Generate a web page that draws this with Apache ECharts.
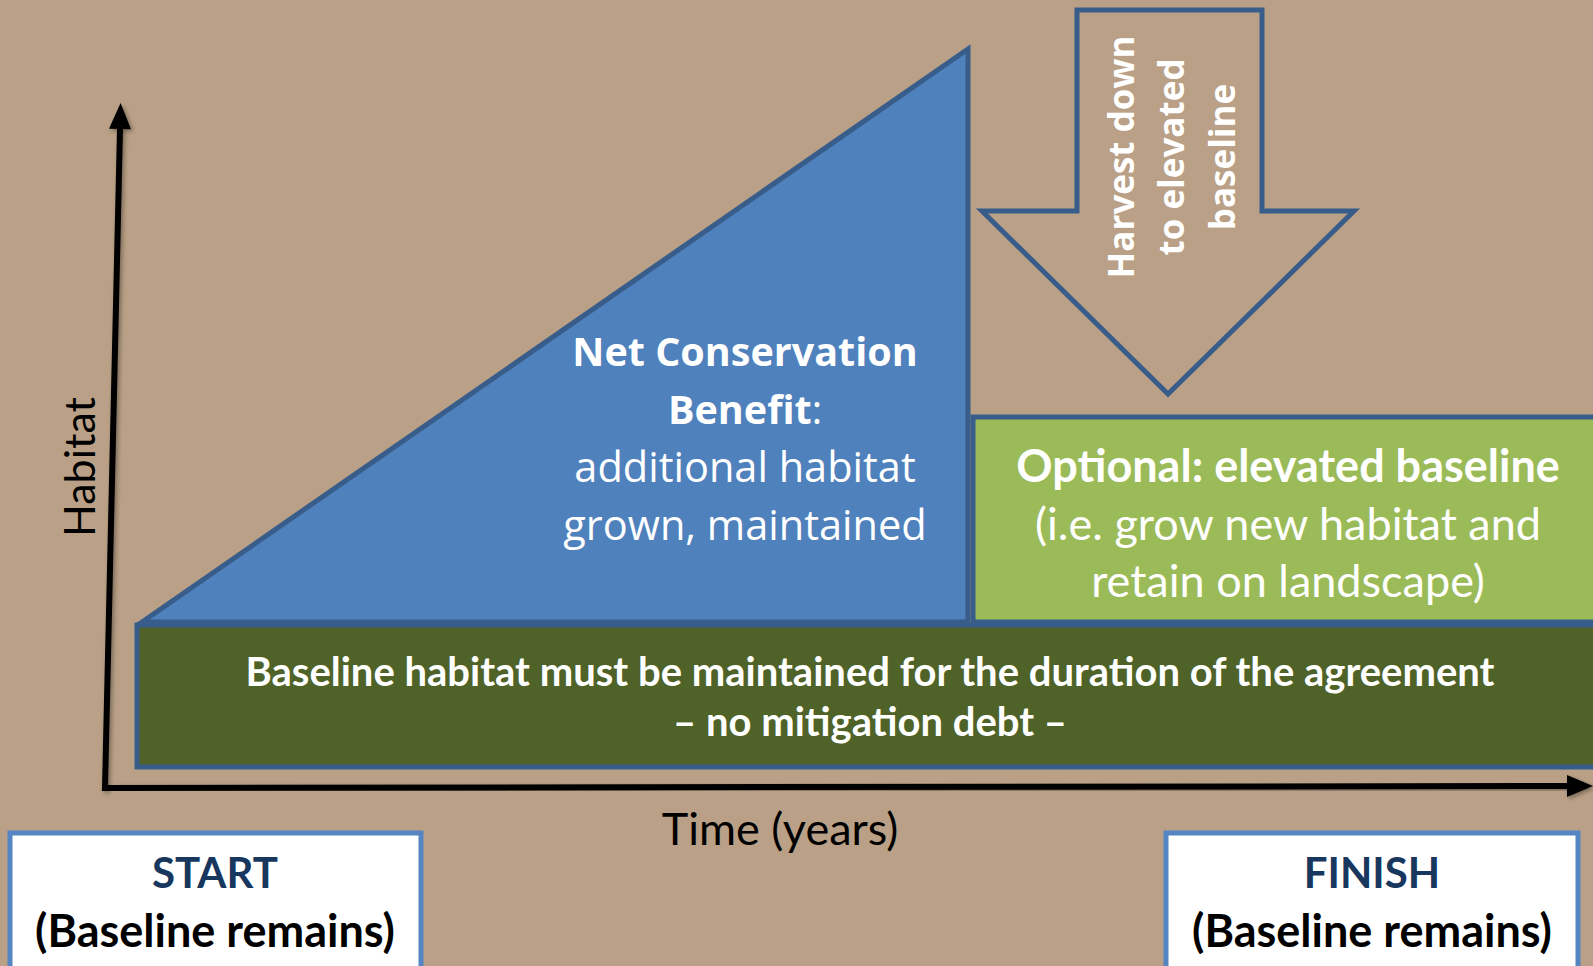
<!DOCTYPE html>
<html>
<head>
<meta charset="utf-8">
<title>Net conservation benefit</title>
<script src="https://cdn.jsdelivr.net/npm/echarts@6/dist/echarts.min.js"></script>
<style>
  html, body { margin: 0; padding: 0; background: #b9a086; }
  #chart { width: 1593px; height: 966px; }
</style>
</head>
<body>
<div id="chart"></div>
<script>
// diagram units: x to the right, y downward, same span as the page (1593 x 966)
const baselineBox = [[137, 625], [1612, 625], [1612, 767], [137, 767]];
const benefitTriangle = [[142, 622], [968, 49], [968, 622]];
const elevatedBox = [[973, 417], [1612, 417], [1612, 622], [973, 622]];
const harvestArrow = [[1077, 10], [1262, 10], [1262, 211], [1354, 211], [1168, 394], [982, 211], [1077, 211]];
const startBox = [[10, 833], [421, 833], [421, 990], [10, 990]];
const finishBox = [[1166, 833], [1578, 833], [1578, 990], [1166, 990]];
const habitatAxis = [[105, 788], [120, 129]];
const timeAxis = [[105, 788], [1567, 786]];

const labelText = [
    'Net Conservation', '{b|Benefit}{r|:}', 'additional habitat', 'grown, maintained',
    'Optional: elevated baseline', '(i.e. grow new habitat and', 'retain on landscape)',
    'Baseline habitat must be maintained for the duration of the agreement', '– no mitigation debt –',
    'Harvest down', 'to elevated', 'baseline',
    'START', '(Baseline remains)', 'FINISH', '(Baseline remains)',
    'Time (years)', 'Habitat'
];
const labelPos = [
    [745, 351], [745, 409], [745, 466], [745, 524],
    [1288, 465], [1288, 523], [1288, 580],
    [870, 671], [870, 721],
    [1120, 157], [1170, 157], [1221, 157],
    [215, 872], [215, 930], [1372, 872], [1372, 930],
    [780, 828], [78, 467]
];
const labelKind = [
    'triBold', 'triRich', 'triReg', 'triReg',
    'elevBold', 'elevReg', 'elevReg',
    'base', 'base',
    'harvest', 'harvest', 'harvest',
    'boxTitle', 'boxSub', 'boxTitle', 'boxSub',
    'axis', 'axisV'
];

const OPEN = '"Open Sans", sans-serif';
const CAL = 'Lato, sans-serif';
const kindStyle = {
    triBold: { fontFamily: OPEN, fontSize: 39.5, fontWeight: 'bold', fill: '#fff' },
    triRich: { fontFamily: OPEN, fontSize: 39.5, fill: '#fff' },
    triReg: { fontFamily: OPEN, fontSize: 41.5, fill: '#fff' },
    elevBold: { fontFamily: CAL, fontSize: 45, fontWeight: 'bold', fill: '#fff' },
    elevReg: { fontFamily: CAL, fontSize: 45, fill: '#fff' },
    base: { fontFamily: CAL, fontSize: 40, fontWeight: 'bold', fill: '#fff' },
    harvest: { fontFamily: OPEN, fontSize: 35, fontWeight: 'bold', fill: '#fff' },
    boxTitle: { fontFamily: CAL, fontSize: 42, fontWeight: 'bold', fill: '#17375e' },
    boxSub: { fontFamily: CAL, fontSize: 45, fontWeight: 'bold', fill: '#000' },
    axis: { fontFamily: CAL, fontSize: 45, fill: '#000' },
    axisV: { fontFamily: CAL, fontSize: 43, fill: '#000' }
};
const rotatedKinds = ['harvest', 'axisV'];

function polySeries(name, pts, style, z) {
    return {
        name: name,
        type: 'custom',
        coordinateSystem: 'cartesian2d',
        silent: true,
        z: z,
        data: pts,
        renderItem: function (params, api) {
            if (params.dataIndex !== 0) {
                return { type: 'group', children: [] };
            }
            const points = pts.map(function (p) { return api.coord(p); });
            return { type: 'polygon', shape: { points: points }, style: style };
        }
    };
}

function arrowSeries(name, line) {
    return {
        name: name,
        type: 'custom',
        coordinateSystem: 'cartesian2d',
        silent: true,
        z: 5,
        data: line,
        renderItem: function (params, api) {
            if (params.dataIndex !== 0) {
                return { type: 'group', children: [] };
            }
            const a = api.coord(line[0]);
            const b = api.coord(line[1]);
            const dx = b[0] - a[0], dy = b[1] - a[1];
            const len = Math.sqrt(dx * dx + dy * dy);
            const ux = dx / len, uy = dy / len;
            const headLen = 26, headW = 11;
            const tip = [b[0] + ux * headLen, b[1] + uy * headLen];
            const l = [b[0] - uy * headW, b[1] + ux * headW];
            const r = [b[0] + uy * headW, b[1] - ux * headW];
            const shadow = { shadowBlur: 4, shadowColor: 'rgba(0,0,0,0.35)', shadowOffsetX: 2, shadowOffsetY: 2 };
            return {
                type: 'group',
                children: [
                    {
                        type: 'line',
                        shape: { x1: a[0] - ux * 3, y1: a[1] - uy * 3, x2: b[0] + ux * 2, y2: b[1] + uy * 2 },
                        style: Object.assign({ stroke: '#000', lineWidth: 6 }, shadow)
                    },
                    {
                        type: 'polygon',
                        shape: { points: [tip, l, r] },
                        style: Object.assign({ fill: '#000' }, shadow)
                    }
                ]
            };
        }
    };
}

const labelSeries = {
    name: 'labels',
    type: 'custom',
    coordinateSystem: 'cartesian2d',
    silent: true,
    z: 10,
    data: labelPos,
    renderItem: function (params, api) {
        const i = params.dataIndex;
        const pt = api.coord([api.value(0), api.value(1)]);
        const kind = labelKind[i];
        const style = Object.assign({
            text: labelText[i],
            align: 'center',
            verticalAlign: 'middle'
        }, kindStyle[kind]);
        if (kind === 'triRich') {
            style.rich = {
                b: { fontFamily: OPEN, fontSize: 39.5, fontWeight: 'bold', fill: '#fff' },
                r: { fontFamily: OPEN, fontSize: 39.5, fill: '#fff' }
            };
        }
        return {
            type: 'text',
            x: pt[0],
            y: pt[1],
            rotation: rotatedKinds.indexOf(kind) >= 0 ? Math.PI / 2 : 0,
            style: style
        };
    }
};

const chart = echarts.init(document.getElementById('chart'), null, { renderer: 'svg' });

const option = {
    backgroundColor: '#b9a086',
    animation: false,
    grid: { left: 0, right: 0, top: 0, bottom: 0 },
    xAxis: { type: 'value', min: 0, max: 1593, show: false },
    yAxis: { type: 'value', min: 0, max: 966, inverse: true, show: false },
    series: [
        polySeries('baseline', baselineBox, { fill: '#4f6228', stroke: '#385d8a', lineWidth: 5 }, 1),
        polySeries('elevated', elevatedBox, { fill: '#9bbb59', stroke: '#385d8a', lineWidth: 5 }, 2),
        polySeries('benefit', benefitTriangle, { fill: '#4f81bd', stroke: '#385d8a', lineWidth: 5, lineJoin: 'miter' }, 3),
        polySeries('harvest', harvestArrow, { fill: 'none', stroke: '#385d8a', lineWidth: 5, lineJoin: 'miter' }, 3),
        polySeries('start', startBox, { fill: '#fff', stroke: '#5585c2', lineWidth: 5 }, 3),
        polySeries('finish', finishBox, { fill: '#fff', stroke: '#5585c2', lineWidth: 5 }, 3),
        arrowSeries('habitatAxis', habitatAxis),
        arrowSeries('timeAxis', timeAxis),
        labelSeries
    ]
};

chart.setOption(option);
</script>
</body>
</html>
